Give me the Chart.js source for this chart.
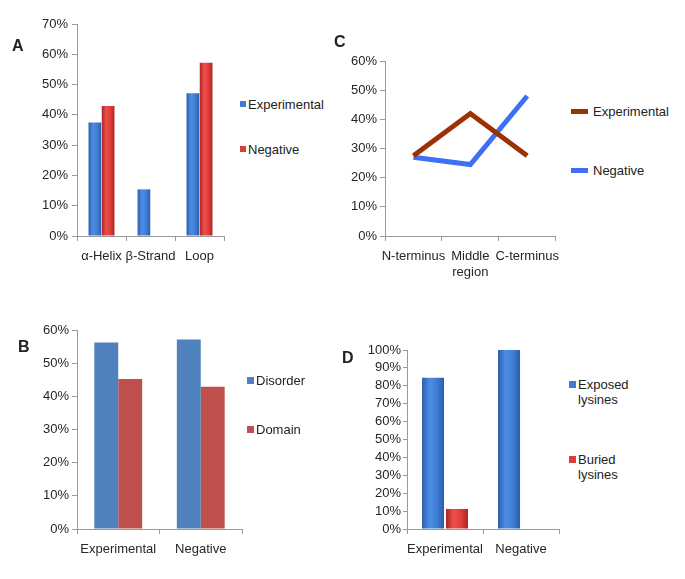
<!DOCTYPE html>
<html>
<head>
<meta charset="utf-8">
<script src="https://cdn.jsdelivr.net/npm/chart.js@4"></script>
<style>
  body { margin: 0; background: #fff; font-family: "Liberation Sans", Arial, sans-serif; color: #222; }
  #page { position: relative; width: 685px; height: 579px; overflow: hidden; }
  .panel { position: absolute; }
  .letter { position: absolute; font-weight: bold; font-size: 16px; line-height: 18px; }
  .leg { position: absolute; font-size: 13px; line-height: 15px; }
  .sw { position: absolute; }
</style>
</head>
<body>
<div id="page"></div>
<script>
// panel A: secondary structure
const secLabels = ["α-Helix", "β-Strand", "Loop"];
const secExperimental = [37.5, 15.4, 47.1];
const secNegative = [42.9, 0, 57.2];

// panel B: disorder / domain
const regionLabels = ["Experimental", "Negative"];
const disorderValues = [56.2, 57.1];
const domainValues = [45.2, 42.9];

// panel C: position in sequence
const posLabels = ["N-terminus", ["Middle", "region"], "C-terminus"];
const posExperimental = [27.5, 42, 27.5];
const posNegative = [27, 24.5, 48];

// panel D: lysine exposure
const lysLabels = ["Experimental", "Negative"];
const exposedValues = [84.5, 100];
const buriedValues = [11.2, 0];

Chart.defaults.font.family = "'Liberation Sans', Arial, sans-serif";
Chart.defaults.font.size = 13;
Chart.defaults.color = "#262626";
Chart.defaults.animation = false;

const AXIS = "#9a9a9a";
const page = document.getElementById("page");

// shaded "3D" look for the Excel-style bars
const shades = {
  blue: ["#2c5eae", "#4d8ee4", "#3e7cd4", "#2a5da9"],
  red: ["#aa2626", "#ee4f49", "#dc3d38", "#aa2424"],
};
const gradientBars = {
  id: "gradientBars",
  beforeDatasetsDraw(chart) {
    const ctx = chart.ctx;
    chart.data.datasets.forEach((ds, i) => {
      if (!ds.shade) return;
      const s = shades[ds.shade];
      chart.getDatasetMeta(i).data.forEach((el) => {
        const g = ctx.createLinearGradient(el.x - el.width / 2, 0, el.x + el.width / 2, 0);
        g.addColorStop(0, s[0]);
        g.addColorStop(0.35, s[1]);
        g.addColorStop(0.7, s[2]);
        g.addColorStop(1, s[3]);
        // own options object per bar, so the gradient is not shared
        el.options = Object.assign({}, el.options, { backgroundColor: g });
      });
    });
  },
};

function addEl(cls, css, html) {
  const d = document.createElement("div");
  d.className = cls;
  Object.assign(d.style, css);
  if (html) d.innerHTML = html;
  page.appendChild(d);
  return d;
}

function makeCanvas(left, top, w, h) {
  const wrap = addEl("panel", { left: left + "px", top: top + "px", width: w + "px", height: h + "px" });
  const c = document.createElement("canvas");
  c.width = w;
  c.height = h;
  wrap.appendChild(c);
  return c;
}

function scales(max, tickLen, pad) {
  return {
    x: {
      offset: true,
      grid: { offset: true, drawOnChartArea: false, tickLength: 5, color: AXIS },
      border: { color: AXIS },
      ticks: { padding: 8, maxRotation: 0, autoSkip: false },
      afterFit(s) { s.height = 45; },
    },
    y: {
      min: 0,
      max: max,
      grid: { drawOnChartArea: false, tickLength: tickLen, color: AXIS },
      border: { color: AXIS },
      ticks: { stepSize: 10, padding: pad, autoSkip: false, callback: (v) => v + "%" },
      afterFit(s) { s.width = 60; },
    },
  };
}

function barChart(canvas, labels, datasets, max, tickLen, pad) {
  return new Chart(canvas, {
    type: "bar",
    data: { labels, datasets },
    options: {
      responsive: false,
      layout: { padding: { top: 12, right: 6 } },
      plugins: { legend: { display: false }, tooltip: { enabled: false } },
      scales: scales(max, tickLen, pad),
    },
    plugins: [gradientBars],
  });
}

// A
barChart(makeCanvas(17, 12, 213, 269), secLabels, [
  { label: "Experimental", data: secExperimental, backgroundColor: "#3e7cd4", shade: "blue", categoryPercentage: 0.54, barPercentage: 0.96 },
  { label: "Negative", data: secNegative, backgroundColor: "#dc3d38", shade: "red", categoryPercentage: 0.54, barPercentage: 0.96 },
], 70, 5, 4);

// B
barChart(makeCanvas(17, 318, 231, 256), regionLabels, [
  { label: "Disorder", data: disorderValues, backgroundColor: "#4f81bd", categoryPercentage: 0.58, barPercentage: 1 },
  { label: "Domain", data: domainValues, backgroundColor: "#c0504d", categoryPercentage: 0.58, barPercentage: 1 },
], 60, 5, 3);

// C
new Chart(makeCanvas(325, 49, 243, 232), {
  type: "line",
  data: {
    labels: posLabels,
    datasets: [
      { label: "Experimental", data: posExperimental, borderColor: "#9c3106", borderWidth: 5, pointRadius: 0, tension: 0 },
      { label: "Negative", data: posNegative, borderColor: "#3f6ff4", borderWidth: 5, pointRadius: 0, tension: 0 },
    ],
  },
  options: {
    responsive: false,
    layout: { padding: { top: 12, right: 6 } },
    plugins: { legend: { display: false }, tooltip: { enabled: false } },
    scales: scales(60, 5, 3),
  },
});

// D
barChart(makeCanvas(347, 338, 218, 236), lysLabels, [
  { label: "Exposed lysines", data: exposedValues, backgroundColor: "#3e7cd4", shade: "blue", categoryPercentage: 0.63, barPercentage: 0.92 },
  { label: "Buried lysines", data: buriedValues, backgroundColor: "#dc3d38", shade: "red", categoryPercentage: 0.63, barPercentage: 0.92 },
], 100, 4, 2);

// panel letters
addEl("letter", { left: "12px", top: "37px" }, "A");
addEl("letter", { left: "18px", top: "338px" }, "B");
addEl("letter", { left: "334px", top: "33px" }, "C");
addEl("letter", { left: "342px", top: "349px" }, "D");

// legends
function squareLegend(x, items, size) {
  items.forEach(([y, color, text]) => {
    addEl("sw", { left: x + "px", top: (y - size / 2) + "px", width: size + "px", height: size + "px", background: color });
    addEl("leg", { left: (x + size + 2) + "px", top: (y - 7.5) + "px" }, text);
  });
}
squareLegend(240, [[104, "#3e7cd4", "Experimental"], [149, "#dc3d38", "Negative"]], 6);
squareLegend(247, [[380, "#4f81bd", "Disorder"], [429, "#c0504d", "Domain"]], 7);
squareLegend(569, [[384, "#3e7cd4", "Exposed<br>lysines"], [459, "#dc3d38", "Buried<br>lysines"]], 7);

[[111, "#9c3106", "Experimental"], [170, "#3f6ff4", "Negative"]].forEach(([y, color, text]) => {
  addEl("sw", { left: "571px", top: (y - 2.5) + "px", width: "17px", height: "5px", background: color });
  addEl("leg", { left: "593px", top: (y - 7.5) + "px" }, text);
});
</script>
</body>
</html>
